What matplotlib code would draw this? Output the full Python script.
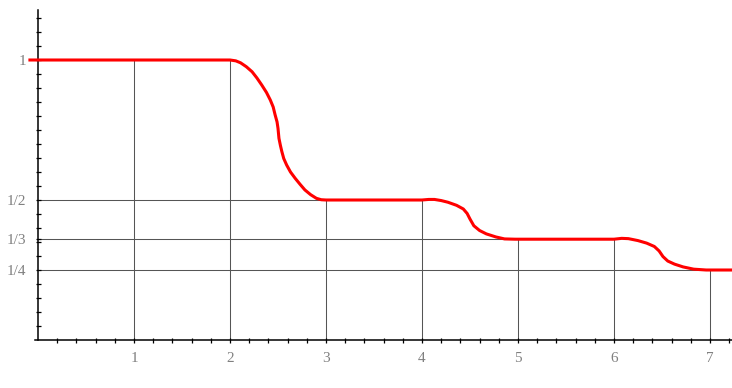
import matplotlib.pyplot as plt
from matplotlib.ticker import FixedLocator

# curve (smoothed staircase)
curve_x = [-0.1, 2.0, 2.06, 2.11, 2.17, 2.23, 2.28, 2.33, 2.38, 2.42, 2.45, 2.47, 2.49, 2.50, 2.51,
           2.525, 2.54, 2.56, 2.59, 2.63, 2.68, 2.73, 2.78, 2.84, 2.90, 2.95, 3.0,
           4.0, 4.07, 4.13, 4.20, 4.27, 4.36, 4.43, 4.47, 4.50, 4.54, 4.60, 4.67, 4.77, 4.86, 4.97,
           6.0, 6.08, 6.15, 6.25, 6.34, 6.42, 6.47, 6.51, 6.56, 6.63, 6.72, 6.83, 6.96, 7.25]
curve_y = [1, 1, 0.997, 0.99, 0.976, 0.958, 0.936, 0.911, 0.884, 0.857, 0.832, 0.804, 0.779, 0.756, 0.72,
           0.695, 0.673, 0.648, 0.625, 0.600, 0.577, 0.556, 0.536, 0.519, 0.506, 0.501, 0.5,
           0.5, 0.502, 0.502, 0.498, 0.492, 0.481, 0.468, 0.452, 0.432, 0.408, 0.391, 0.379, 0.368, 0.361, 0.36,
           0.36, 0.363, 0.362, 0.355, 0.346, 0.334, 0.318, 0.298, 0.282, 0.271, 0.261, 0.253, 0.25, 0.25]

# reference levels: horizontal lines run from the y axis to where the curve leaves them
levels = [1, 0.5, 0.36, 0.25]
level_labels = ['1', '1/2', '1/3', '1/4']
level_ends = [2, 4, 6, 7.3]

# vertical drop lines at the integer ticks
drop_x = [1, 2, 3, 4, 5, 6, 7]
drop_y = [1, 1, 0.5, 0.5, 0.36, 0.36, 0.25]

fig = plt.figure(figsize=(7.32, 3.88), dpi=100)
ax = fig.add_axes([0, 0, 1, 1])
ax.set_xlim(-38 / 96, 694 / 96)
ax.set_ylim(-48 / 280, 340 / 280)

grid_c = '#555555'
for lv, end in zip(levels, level_ends):
    ax.plot([0, end], [lv, lv], color=grid_c, lw=0.75, zorder=1)
for dx, dy in zip(drop_x, drop_y):
    ax.plot([dx, dx], [0, dy], color=grid_c, lw=0.75, zorder=1)

ax.plot(curve_x, curve_y, color='#ff0000', lw=2.2, zorder=3,
        solid_joinstyle='round', solid_capstyle='butt')

ax.spines['top'].set_visible(False)
ax.spines['right'].set_visible(False)
ax.spines['left'].set_position(('data', 0))
ax.spines['bottom'].set_position(('data', 0))
ax.spines['left'].set_bounds(0, 1.18)
ax.spines['bottom'].set_bounds(-0.03, 7.3)
ax.spines['left'].set_linewidth(1.1)
ax.spines['bottom'].set_linewidth(1.1)

ax.set_xticks(drop_x)
ax.set_xticklabels([str(v) for v in drop_x])
ax.xaxis.set_minor_locator(FixedLocator([round(0.2 * i, 2) for i in range(1, 37)]))
ax.set_yticks(levels)
ax.set_yticklabels(level_labels)
ax.yaxis.set_minor_locator(FixedLocator([round(0.05 * i, 2) for i in range(1, 24)]))

ax.tick_params(which='both', direction='inout', length=3.6, width=0.9, color='black')
ax.tick_params(axis='x', which='major', pad=6.5)
ax.tick_params(axis='y', which='major', pad=6.8)
for lab in ax.get_xticklabels() + ax.get_yticklabels():
    lab.set_fontfamily('Liberation Serif')
    lab.set_fontsize(11)
    lab.set_color('#808080')

fig.savefig('out.png', dpi=100)
